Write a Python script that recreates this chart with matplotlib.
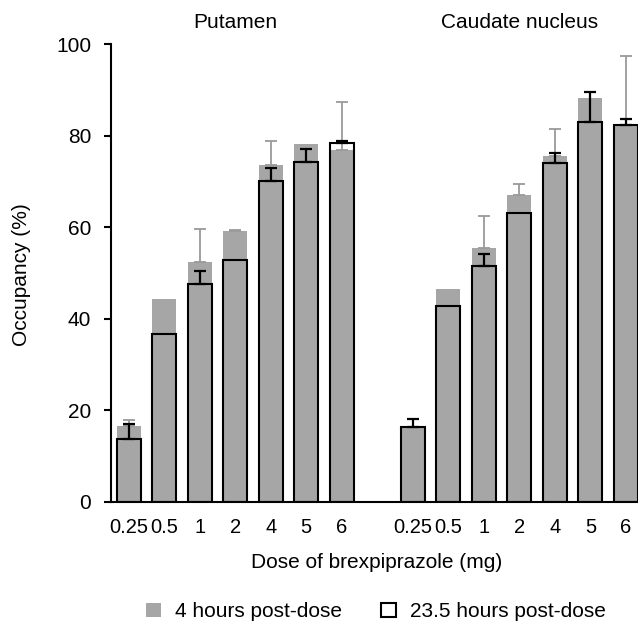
import matplotlib
matplotlib.use("Agg")
import matplotlib.pyplot as plt
import numpy as np
from matplotlib.patches import Patch

plt.rcParams['font.family'] = ['Liberation Sans', 'DejaVu Sans']

doses = ["0.25", "0.5", "1", "2", "4", "5", "6"]
regions = ["Putamen", "Caudate nucleus"]

put_4h = [16.6, 44.3, 52.4, 59.1, 73.5, 78.2, 76.8]
put_4h_err = [1.3, 0.0, 7.2, 0.3, 5.3, 0.0, 10.5]
put_23h = [13.8, 36.6, 47.6, 52.9, 70.1, 74.2, 78.4]
put_23h_err = [3.1, 0.0, 2.7, 0.0, 2.9, 2.9, 0.4]

cau_4h = [16.4, 46.5, 55.4, 67.0, 75.5, 88.3, 82.3]
cau_4h_err = [0.0, 0.0, 7.0, 2.5, 6.0, 0.0, 15.1]
cau_23h = [16.4, 42.7, 51.6, 63.0, 73.9, 83.0, 82.4]
cau_23h_err = [1.6, 0.0, 2.5, 0.0, 2.3, 6.6, 1.3]

W, H = 638, 621
fig = plt.figure(figsize=(W / 100, H / 100), dpi=100)
ax = fig.add_axes([110.7 / W, 1 - 501.7 / H, 1 - 110.7 / W, (501.7 - 44) / H])

n = len(doses)
x_put = np.arange(n)
x_cau = np.arange(n) + n + 1
w = 0.68
grey = "#a6a6a6"

for xs, v4, e4, v23, e23 in [(x_put, put_4h, put_4h_err, put_23h, put_23h_err),
                              (x_cau, cau_4h, cau_4h_err, cau_23h, cau_23h_err)]:
    ax.bar(xs, v4, width=w, color=grey, edgecolor="none", zorder=2)
    e4m = np.array(e4)
    m4 = e4m > 0
    ax.errorbar(xs[m4], np.array(v4)[m4], yerr=[np.zeros(m4.sum()), e4m[m4]],
                fmt="none", ecolor="#9a9a9a", elinewidth=1.3, capsize=4, capthick=1.3, zorder=2.5)
    ax.bar(xs, v23, width=w, facecolor="none", edgecolor="black", linewidth=1.5, zorder=3)
    e23m = np.array(e23)
    m23 = e23m > 0
    ax.errorbar(xs[m23], np.array(v23)[m23], yerr=[np.zeros(m23.sum()), e23m[m23]],
                fmt="none", ecolor="black", elinewidth=1.6, capsize=4, capthick=1.6, zorder=4)

ax.set_xlim(-0.506, 14.34)
ax.set_ylim(0, 100)
ax.set_yticks([0, 20, 40, 60, 80, 100])
ax.set_xticks(list(x_put) + list(x_cau))
ax.set_xticklabels(doses + doses)
ax.tick_params(axis='x', length=0, labelsize=14.5, pad=12)
ax.tick_params(axis='y', length=5, width=1.5, direction='out', labelsize=15, pad=9)
for s in ["top", "right"]:
    ax.spines[s].set_visible(False)
ax.spines["left"].set_linewidth(1.5)
ax.spines["bottom"].set_linewidth(1.5)

fig.text(22 / W, 1 - 275 / H, "Occupancy (%)", rotation=90, ha="center", va="center", fontsize=15)
fig.text(377 / W, 1 - 563 / H, "Dose of brexpiprazole (mg)", ha="center", va="center", fontsize=15)

ax.text(np.mean(x_put), 104.8, regions[0], ha="center", va="center", fontsize=15)
ax.text(np.mean(x_cau), 104.8, regions[1], ha="center", va="center", fontsize=15)

handles = [Patch(facecolor=grey, edgecolor="none", label="4 hours post-dose"),
           Patch(facecolor="white", edgecolor="black", linewidth=1.5, label="23.5 hours post-dose")]
fig.legend(handles=handles, loc="center", bbox_to_anchor=(376 / W, 1 - 611.7 / H), ncol=2,
           frameon=False, fontsize=15, handlelength=0.7, handleheight=0.7,
           columnspacing=1.9, handletextpad=0.66, borderpad=0, borderaxespad=0)

fig.savefig("out.png", dpi=100)
